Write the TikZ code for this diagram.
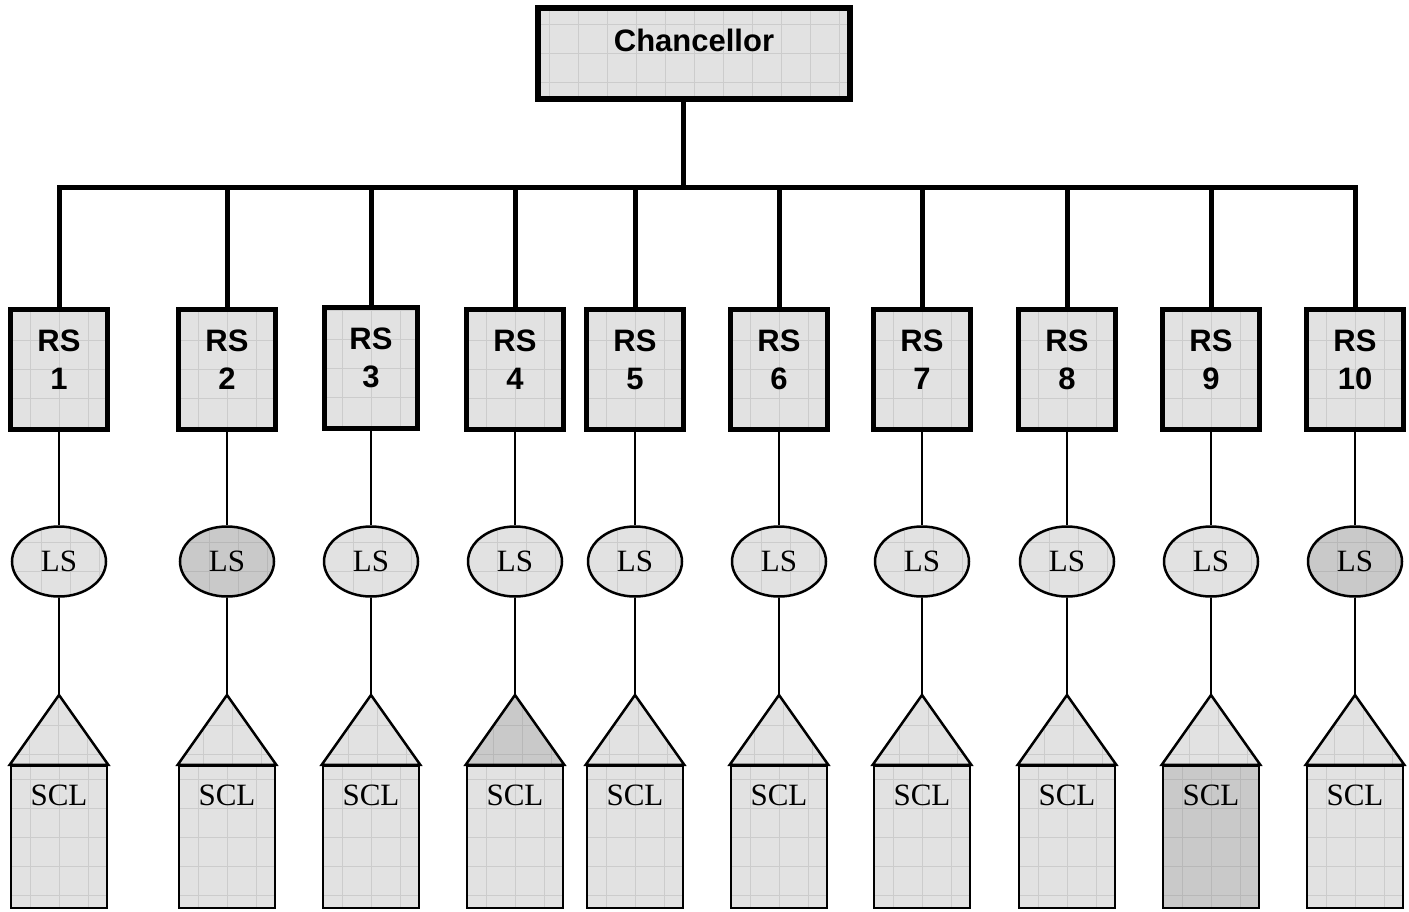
\documentclass[tikz,border=0pt]{standalone}
\usepackage{fontspec}
\setmainfont{Liberation Serif}
\setsansfont{Liberation Sans}
\usetikzlibrary{shapes.geometric,calc}
\definecolor{lightfill}{gray}{0.885}
\definecolor{darkfill}{gray}{0.79}
\definecolor{gridl}{gray}{0.80}
\definecolor{gridd}{gray}{0.72}
\tikzset{
  gridded/.style={path picture={\draw[#1,line width=0.8pt] (path picture bounding box.south west) grid[step=29pt] (path picture bounding box.north east);}},
  gridded/.default=gridl,
  chanbox/.style={draw,line width=6pt,fill=lightfill,gridded,minimum width=312pt,minimum height=91pt,inner sep=0pt},
  rsbox/.style={draw,line width=5pt,fill=lightfill,gridded,minimum width=97pt,minimum height=120pt,inner sep=0pt},
  lsell/.style={ellipse,draw,line width=2.5pt,inner sep=0pt,minimum width=94pt,minimum height=70pt,font=\fontsize{31}{36}\selectfont},
  sclbox/.style={draw,line width=2.5pt,inner sep=0pt,minimum width=96pt,minimum height=142pt},
  roof/.style={draw,line width=2.5pt,line join=miter},
  boldtxt/.style={font=\sffamily\bfseries\fontsize{31}{38}\selectfont,align=center,inner sep=0pt},
  serftxt/.style={font=\fontsize{31}{36}\selectfont,inner sep=0pt},
  thick conn/.style={line width=5pt},
  thin conn/.style={line width=2.2pt},
}
\begin{document}
\begin{tikzpicture}[x=1pt,y=-1pt]
\useasboundingbox (0,0) rectangle (1409,911);
\node[chanbox] (chan) at (694,53.5) {};
\node[boldtxt] (chant) at (694,40) {Chancellor};
\coordinate (busc) at (683,187.5);
\foreach \i/\x/\lsf/\lsg/\rff/\rfg/\scf/\scg in {
  1/59/lightfill/gridl/lightfill/gridl/lightfill/gridl,
  2/227/darkfill/gridd/lightfill/gridl/lightfill/gridl,
  3/371/lightfill/gridl/lightfill/gridl/lightfill/gridl,
  4/515/lightfill/gridl/darkfill/gridd/lightfill/gridl,
  5/635/lightfill/gridl/lightfill/gridl/lightfill/gridl,
  6/779/lightfill/gridl/lightfill/gridl/lightfill/gridl,
  7/922/lightfill/gridl/lightfill/gridl/lightfill/gridl,
  8/1067/lightfill/gridl/lightfill/gridl/lightfill/gridl,
  9/1211/lightfill/gridl/lightfill/gridl/darkfill/gridd,
  10/1355/darkfill/gridd/lightfill/gridl/lightfill/gridl}{
  \ifnum\i=3
    \node[rsbox,minimum width=93pt,minimum height=121pt] (rs\i) at (\x,368) {};
    \node[boldtxt] (rst\i) at (\x,358) {RS\\\i};
  \else
    \node[rsbox] (rs\i) at (\x,369.5) {};
    \node[boldtxt] (rst\i) at (\x,360) {RS\\\i};
  \fi
  \node[lsell,fill=\lsf,gridded=\lsg] (ls\i) at (\x,561.5) {LS};
  \node[sclbox,fill=\scf,gridded=\scg] (scl\i) at (\x,837) {};
  \node[serftxt] (sclt\i) at (\x,795) {SCL};
  \coordinate (apex\i) at (\x,695);
  \path[roof,fill=\rff,gridded=\rfg] (scl\i.north west) -- (apex\i) -- (scl\i.north east) -- cycle;
  \draw[thin conn] (rs\i.south) -- (ls\i.north);
  \draw[thin conn] (ls\i.south) -- (apex\i);
}
\draw[thick conn] (chan.south -| busc) -- (busc);
\draw[thick conn,line join=miter] (rs1.north) -- (rs1.north |- busc) -- (rs10.north |- busc) -- (rs10.north);
\foreach \i in {2,...,9}{
  \draw[thick conn] (rs\i.north |- busc) -- (rs\i.north);
}
\end{tikzpicture}
\end{document}
